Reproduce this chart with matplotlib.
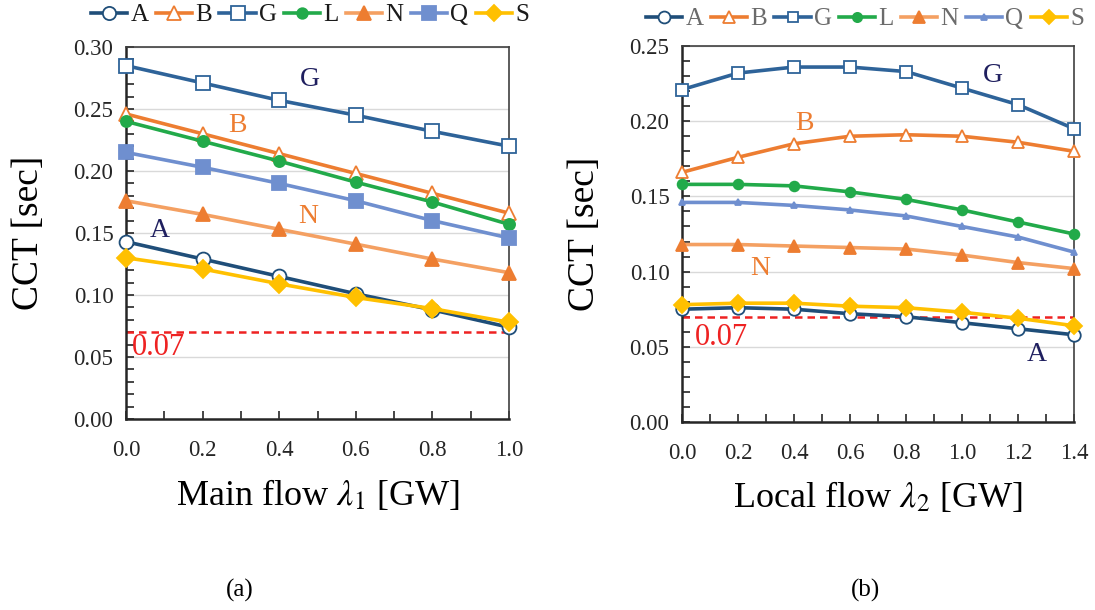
import matplotlib
matplotlib.use("Agg")
import matplotlib.pyplot as plt
from matplotlib.ticker import MultipleLocator, FormatStrFormatter

plt.rcParams['font.family'] = ['Liberation Serif', 'DejaVu Serif']
plt.rcParams['mathtext.fontset'] = 'stix'

# ---- data ----
series = ['A', 'B', 'G', 'L', 'N', 'Q', 'S']
x_main = [0.0, 0.2, 0.4, 0.6, 0.8, 1.0]
main_A = [0.143, 0.129, 0.115, 0.101, 0.088, 0.074]
main_B = [0.246, 0.230, 0.214, 0.198, 0.182, 0.166]
main_G = [0.285, 0.271, 0.257, 0.245, 0.232, 0.220]
main_L = [0.240, 0.224, 0.208, 0.191, 0.175, 0.157]
main_N = [0.176, 0.165, 0.153, 0.141, 0.129, 0.118]
main_Q = [0.215, 0.203, 0.190, 0.176, 0.160, 0.146]
main_S = [0.130, 0.121, 0.109, 0.098, 0.089, 0.078]

x_local = [0.0, 0.2, 0.4, 0.6, 0.8, 1.0, 1.2, 1.4]
local_A = [0.075, 0.076, 0.075, 0.072, 0.070, 0.066, 0.062, 0.058]
local_B = [0.166, 0.176, 0.185, 0.190, 0.191, 0.190, 0.186, 0.180]
local_G = [0.221, 0.232, 0.236, 0.236, 0.233, 0.222, 0.211, 0.195]
local_L = [0.158, 0.158, 0.157, 0.153, 0.148, 0.141, 0.133, 0.125]
local_N = [0.118, 0.118, 0.117, 0.116, 0.115, 0.111, 0.106, 0.102]
local_Q = [0.146, 0.146, 0.144, 0.141, 0.137, 0.130, 0.123, 0.113]
local_S = [0.078, 0.079, 0.079, 0.077, 0.076, 0.073, 0.069, 0.064]

threshold = 0.07

main_data = dict(A=main_A, B=main_B, G=main_G, L=main_L, N=main_N, Q=main_Q, S=main_S)
local_data = dict(A=local_A, B=local_B, G=local_G, L=local_L, N=local_N, Q=local_Q, S=local_S)

# ---- styles ----
line_col = dict(A='#1f4e79', B='#ed7d31', G='#2e6399', L='#22aa4a',
                N='#f4a062', Q='#6f8fcf', S='#ffc000')
mk_col = dict(A='#1f4e79', B='#ed7d31', G='#2e6399', L='#22aa4a',
              N='#ed7d31', Q='#6f8fcf', S='#ffc000')
markers = dict(A='o', B='^', G='s', L='o', N='^', Q='s', S='D')
hollow = dict(A=True, B=True, G=True, L=False, N=False, Q=False, S=False)
msize_main = dict(A=10, B=10, G=10, L=8, N=10, Q=10, S=9)
msize_local = dict(A=9, B=9, G=8, L=7, N=9, Q=5, S=8)
markers_local = dict(markers, Q='^')

fig = plt.figure(figsize=(10.95, 6.10), dpi=100)
W, H = 1095, 610
ax1 = fig.add_axes([126 / W, 1 - 419 / H, (509 - 126) / W, (419 - 47) / H])
ax2 = fig.add_axes([682 / W, 1 - 422 / H, (1074 - 682) / W, (422 - 46) / H])


def draw(ax, x, data, msize, mks, ymax, legend_color, leg_y, leg_x):
    handles = []
    for s in series:
        mfc = 'white' if hollow[s] else mk_col[s]
        h, = ax.plot(x, data[s], color=line_col[s], lw=2.6, marker=mks[s],
                     markersize=msize[s], markerfacecolor=mfc,
                     markeredgecolor=mk_col[s], markeredgewidth=1.3,
                     clip_on=False, zorder=3)
        handles.append(h)
    ax.axhline(threshold, color='#ee2222', lw=1.8, ls=(0, (3, 2)), zorder=2)
    ax.set_xlim(x[0], x[-1])
    ax.set_ylim(0, ymax)
    ax.yaxis.set_major_locator(MultipleLocator(0.05))
    ax.yaxis.set_minor_locator(MultipleLocator(0.01))
    ax.yaxis.set_major_formatter(FormatStrFormatter('%.2f'))
    ax.xaxis.set_major_locator(MultipleLocator(0.2))
    ax.xaxis.set_minor_locator(MultipleLocator(0.1))
    ax.xaxis.set_major_formatter(FormatStrFormatter('%.1f'))
    ax.grid(axis='y', which='major', color='#d9d9d9', lw=1.0, zorder=0)
    ax.tick_params(which='both', direction='in', labelsize=16.5, length=6,
                   width=1.2, colors='#262626', pad=9)
    ax.tick_params(axis='x', pad=15)
    for sp in ['left', 'bottom']:
        ax.spines[sp].set_linewidth(1.8)
        ax.spines[sp].set_color('#262626')
    for sp in ['top', 'right']:
        ax.spines[sp].set_linewidth(1.2)
        ax.spines[sp].set_color('#404040')
    ax.set_ylabel('CCT [sec]', fontsize=27, labelpad=20)
    fig.legend(handles, series, loc='center', bbox_to_anchor=(leg_x / W, 1 - leg_y / H),
               ncol=7, frameon=False, fontsize=18, handlelength=1.45,
               handletextpad=0.12, columnspacing=0.3, labelcolor=legend_color,
               markerscale=0.95, borderpad=0.1)
    return handles


draw(ax1, x_main, main_data, msize_main, markers, 0.30, '#1a1a1a', 15, 310)
draw(ax2, x_local, local_data, msize_local, markers_local, 0.25, '#6b6b6b', 19, 865)

ax1.set_xlabel(r'Main flow $\lambda_1$ [GW]', fontsize=26, labelpad=12)
ax2.set_xlabel(r'Local flow $\lambda_2$ [GW]', fontsize=26, labelpad=12)

# series labels
lab_fs = 20
ax1.text(0.48, 0.274, 'G', color='#1f1f5f', fontsize=lab_fs, ha='center', va='center')
ax1.text(0.29, 0.237, 'B', color='#ed7d31', fontsize=lab_fs, ha='center', va='center')
ax1.text(0.475, 0.163, 'N', color='#ed7d31', fontsize=lab_fs, ha='center', va='center')
ax1.text(0.089, 0.152, 'A', color='#1f1f5f', fontsize=lab_fs, ha='center', va='center')
ax1.text(0.015, 0.0575, '0.07', color='#ee2222', fontsize=22, ha='left', va='center')

ax2.text(1.111, 0.2305, 'G', color='#1f1f5f', fontsize=lab_fs, ha='center', va='center')
ax2.text(0.436, 0.1985, 'B', color='#ed7d31', fontsize=lab_fs, ha='center', va='center')
ax2.text(0.279, 0.102, 'N', color='#ed7d31', fontsize=lab_fs, ha='center', va='center')
ax2.text(1.268, 0.045, 'A', color='#1f1f5f', fontsize=lab_fs, ha='center', va='center')
ax2.text(0.045, 0.0565, '0.07', color='#ee2222', fontsize=22, ha='left', va='center')

fig.text(240 / W, 1 - 590 / H, '(a)', fontsize=18, ha='center', va='center')
fig.text(866 / W, 1 - 590 / H, '(b)', fontsize=18, ha='center', va='center')

fig.savefig('out.png', dpi=100)
